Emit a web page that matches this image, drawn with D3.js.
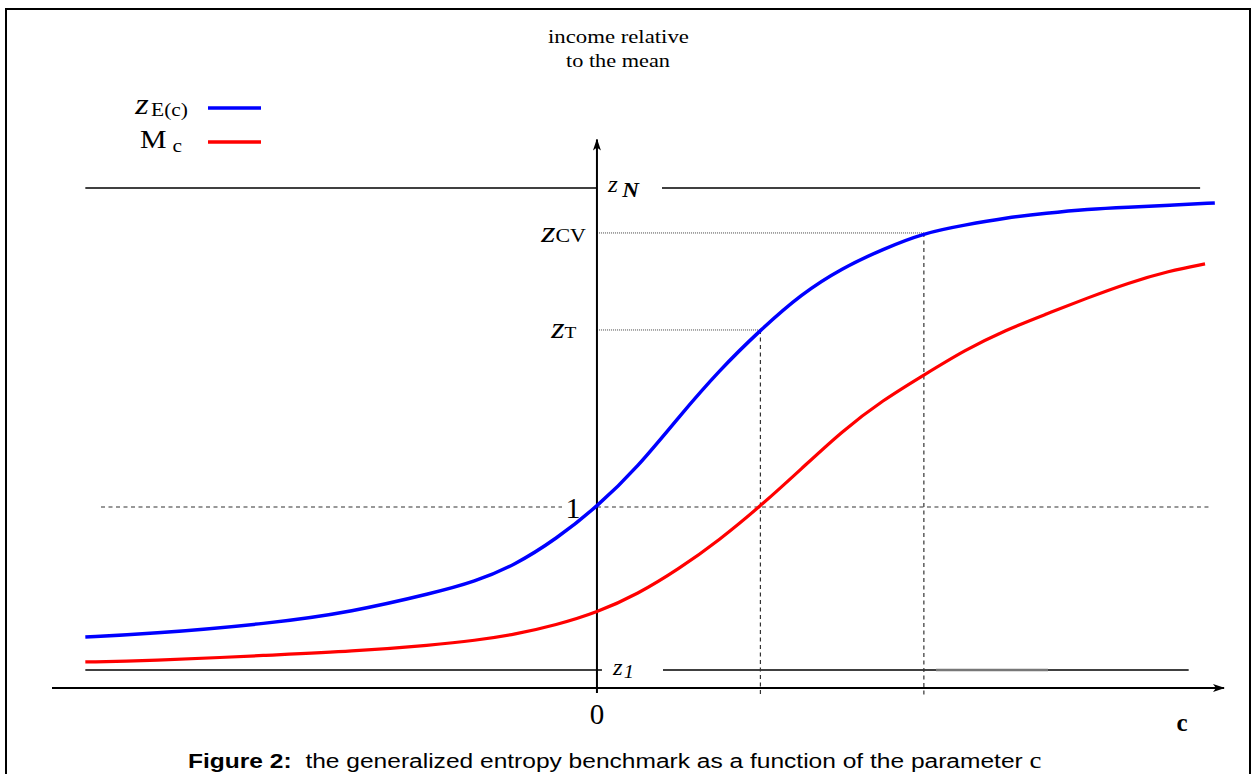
<!DOCTYPE html>
<html>
<head>
<meta charset="utf-8">
<script src="https://cdn.jsdelivr.net/npm/d3@7"></script>
<style>
  body { margin: 0; background: #fff; }
  svg { display: block; }
  .serif { font-family: 'Liberation Serif', 'Times New Roman', serif; }
</style>
</head>
<body>
<div class="canvas"></div>
<script>
// parameter c and the two curves
const cValues = [-3.13, -2.75, -2, -1.5, -1, -0.75, -0.5, -0.25, 0, 0.25, 0.5, 0.75, 1, 1.25, 1.5, 1.75, 2, 2.25, 2.5, 2.75, 3, 3.25, 3.5, 3.78];
const cValuesM = [-3.13, -2.75, -2, -1.5, -1, -0.75, -0.5, -0.25, 0, 0.25, 0.5, 0.75, 1, 1.25, 1.5, 1.75, 2, 2.25, 2.5, 2.75, 3, 3.25, 3.5, 3.72];
const zEValues = [0.282, 0.298, 0.356, 0.42, 0.525, 0.586, 0.68, 0.823, 1.0, 1.221, 1.497, 1.757, 1.978, 2.177, 2.32, 2.425, 2.514, 2.558, 2.597, 2.624, 2.646, 2.657, 2.666, 2.68];
const mValues = [0.144, 0.149, 0.182, 0.202, 0.238, 0.262, 0.296, 0.348, 0.417, 0.519, 0.657, 0.818, 1.005, 1.21, 1.42, 1.591, 1.729, 1.867, 1.978, 2.066, 2.155, 2.238, 2.304, 2.343];

// benchmark levels (income relative to the mean)
const zN = 2.762;
const zCV = 2.514;
const zT = 1.978;
const zOne = 1;
const z1 = 0.1;

// c values of the Theil and CV benchmarks
const cTheil = 1;
const cCV = 2;

const width = 1252;
const height = 774;

const svg = d3
  .select('.canvas')
  .append('svg')
  .attr('width', width)
  .attr('height', height);

//scales
const x = d3.scaleLinear().domain([-3.34, 3.83]).range([51, 1223]);
const y = d3.scaleLinear().domain([0, 3]).range([688, 145]);

//stretch a text horizontally so it starts at x0 and is w wide
const fit = (sel, x0, w) => {
  const b = sel.node().getBBox();
  const s = w / b.width;
  sel.attr('transform', `translate(${x0},0) scale(${s},1) translate(${-b.x},0)`);
};

//frame
svg
  .append('rect')
  .attr('x', 6)
  .attr('y', 9)
  .attr('width', 1244)
  .attr('height', 800)
  .attr('fill', 'none')
  .attr('stroke', '#000')
  .attr('stroke-width', 2);

//arrow markers
const defs = svg.append('defs');
defs
  .append('marker')
  .attr('id', 'arrow')
  .attr('viewBox', '0 0 12 10')
  .attr('refX', 11)
  .attr('refY', 5)
  .attr('markerWidth', 12)
  .attr('markerHeight', 10)
  .attr('markerUnits', 'userSpaceOnUse')
  .attr('orient', 'auto')
  .append('path')
  .attr('d', 'M0,1 L12,5 L0,9 L3,5 Z')
  .attr('fill', '#000');

const guides = svg.append('g');

//solid bounds zN and z1
const solid = (x1, x2, v, w, col) =>
  guides
    .append('line')
    .attr('x1', x1)
    .attr('x2', x2)
    .attr('y1', y(v))
    .attr('y2', y(v))
    .attr('stroke', col || '#000')
    .attr('stroke-width', w);

solid(x(-3.13), x(0), zN, 1.5);
solid(662, x(3.69), zN, 1.5);
solid(x(-3.13), x(0) + 5, z1, 1.5);
solid(663, x(3.62), z1, 1.5);
solid(936, 1048, z1, 2.5, '#777');

//dashed lines
const dashed = (x1, x2, y1, y2) =>
  guides
    .append('line')
    .attr('x1', x1)
    .attr('x2', x2)
    .attr('y1', y1)
    .attr('y2', y2)
    .attr('stroke', '#333')
    .attr('stroke-width', 1.2)
    .attr('stroke-dasharray', '4,3.5');

dashed(101, 562, y(zOne), y(zOne));
dashed(x(0), 1209, y(zOne), y(zOne));
dashed(x(cTheil), x(cTheil), y(zT), 696);
dashed(x(cCV), x(cCV), y(zCV), 696);

//dotted lines to zT, zCV
[
  [zCV, cCV],
  [zT, cTheil],
].forEach(([v, c]) => {
  guides
    .append('line')
    .attr('x1', x(0))
    .attr('x2', x(c))
    .attr('y1', y(v))
    .attr('y2', y(v))
    .attr('stroke', '#444')
    .attr('stroke-width', 1)
    .attr('stroke-dasharray', '1,1');
});

//axes
svg
  .append('line')
  .attr('x1', 52)
  .attr('x2', x(3.83) + 1)
  .attr('y1', y(0))
  .attr('y2', y(0))
  .attr('stroke', '#000')
  .attr('stroke-width', 2)
  .attr('marker-end', 'url(#arrow)');

svg
  .append('line')
  .attr('x1', x(0))
  .attr('x2', x(0))
  .attr('y1', 693)
  .attr('y2', y(3.03))
  .attr('stroke', '#000')
  .attr('stroke-width', 2)
  .attr('marker-end', 'url(#arrow)');

//curves
const line = d3
  .line()
  .x((d) => x(d[0]))
  .y((d) => y(d[1]))
  .curve(d3.curveBasis);

svg
  .append('path')
  .datum(d3.zip(cValuesM, mValues))
  .attr('fill', 'none')
  .attr('stroke', '#ff0000')
  .attr('stroke-width', 3.2)
  .attr('d', line);

svg
  .append('path')
  .datum(d3.zip(cValues, zEValues))
  .attr('fill', 'none')
  .attr('stroke', '#0000ff')
  .attr('stroke-width', 3.5)
  .attr('d', line);

//labels
const txt = svg.append('g').attr('class', 'serif').attr('fill', '#000');

const t1 = txt.append('text').attr('y', 43).attr('font-size', 18).text('income relative');
fit(t1, 548, 141);
const t2 = txt.append('text').attr('y', 67).attr('font-size', 18).text('to the mean');
fit(t2, 566, 104);

//z N
const lzN = txt.append('text').attr('y', y(zN) + 4);
lzN.append('tspan').attr('font-size', 23).attr('font-style', 'italic').text('z');
lzN.append('tspan').attr('font-size', 21).attr('font-style', 'italic').attr('font-weight', 'bold').attr('dx', 4).attr('dy', 5).text('N');
fit(lzN, 607, 33);

//z 1
const lz1 = txt.append('text').attr('y', y(z1) + 5);
lz1.append('tspan').attr('font-size', 23).attr('font-style', 'italic').text('z');
lz1.append('tspan').attr('font-size', 19).attr('font-style', 'italic').attr('dx', 1).attr('dy', 3).text('1');
fit(lz1, 612, 22);

//z CV
const lzCV = txt.append('text').attr('y', y(zCV) + 9);
lzCV.append('tspan').attr('font-size', 30).attr('font-style', 'italic').text('z');
lzCV.append('tspan').attr('font-size', 18).attr('dx', 0).text('CV');
fit(lzCV, 540, 46);

//z T
const lzT = txt.append('text').attr('y', y(zT) + 8);
lzT.append('tspan').attr('font-size', 30).attr('font-style', 'italic').text('z');
lzT.append('tspan').attr('font-size', 17).attr('dx', 0).text('T');
fit(lzT, 550, 27);

//1
txt
  .append('text')
  .attr('x', 573)
  .attr('y', y(zOne) + 11)
  .attr('text-anchor', 'middle')
  .attr('font-size', 30)
  .text('1');

//0 on the c axis
txt
  .append('text')
  .attr('x', x(0))
  .attr('y', 724)
  .attr('text-anchor', 'middle')
  .attr('font-size', 29)
  .text('0');

txt
  .append('text')
  .attr('x', 1182)
  .attr('y', 731)
  .attr('text-anchor', 'middle')
  .attr('font-size', 25)
  .attr('font-weight', 'bold')
  .text('c');

//legend
const legendItems = [
  { main: 'z', sub: 'E(c)', color: '#0000ff', italic: true, x0: 134, w: 54 },
  { main: 'M', sub: 'c', color: '#ff0000', italic: false, x0: 140, w: 42 },
];
const legend = svg.append('g').attr('class', 'serif');
legendItems.forEach((item, i) => {
  const ly = 108 + i * 34;
  const t = legend.append('text').attr('y', ly + 6);
  t.append('tspan')
    .attr('font-size', item.italic ? 29 : 25)
    .attr('font-style', item.italic ? 'italic' : 'normal')
    .text(item.main);
  t.append('tspan')
    .attr('font-size', 18)
    .attr('dx', item.italic ? 2 : 5)
    .attr('dy', item.italic ? 2 : 4)
    .text(item.sub);
  fit(t, item.x0, item.w);
  legend
    .append('line')
    .attr('x1', 208)
    .attr('x2', 261)
    .attr('y1', ly)
    .attr('y2', ly)
    .attr('stroke', item.color)
    .attr('stroke-width', 3.5);
});

//caption
const cap = svg
  .append('text')
  .attr('y', 768)
  .attr('font-family', "'Liberation Sans', Arial, sans-serif")
  .attr('font-size', 21);
cap.append('tspan').attr('font-weight', 'bold').text('Figure 2:');
cap.append('tspan').attr('dx', 6).text(' the generalized entropy benchmark as a function of the parameter ');
cap
  .append('tspan')
  .attr('font-family', "'Liberation Serif', 'Times New Roman', serif")
  .attr('font-size', 23)
  .text('c');
fit(cap, 188, 854);
</script>
</body>
</html>
